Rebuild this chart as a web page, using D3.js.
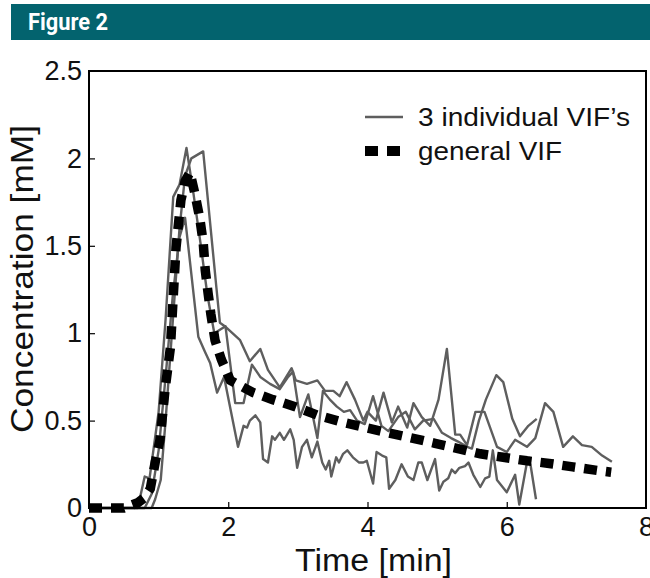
<!DOCTYPE html>
<html>
<head>
<meta charset="utf-8">
<script src="https://cdn.jsdelivr.net/npm/d3@7"></script>
<style>
  html, body { margin: 0; padding: 0; background: #fff; }
  svg { display: block; }
</style>
</head>
<body>
<svg id="chart" width="650" height="578"></svg>
<script>
// ---------------- DATA ----------------
const figureTitle = "Figure 2";
const xTitle = "Time [min]";
const yTitle = "Concentration [mM]";
const legendLabels = ["3 individual VIF\u2019s", "general VIF"];
const timeTicks = [0, 2, 4, 6, 8];
const concTicks = [0, 0.5, 1, 1.5, 2, 2.5];
const concTickLabels = ["0", "0.5", "1", "1.5", "2", "2.5"];

// individual VIF with lowest tail  [time (min), concentration (mM)]
const vifLow = [[0,0],[0.8,0],[0.9,0.08],[1.0,0.33],[1.1,0.75],[1.2,1.2],[1.3,1.55],[1.38,1.66],
  [1.57,0.98],[1.67,0.89],[1.74,0.83],[1.84,0.66],[1.94,0.75],[2.14,0.35],[2.22,0.47],[2.27,0.46],
  [2.31,0.5],[2.39,0.53],[2.46,0.49],[2.5,0.28],[2.57,0.26],[2.63,0.41],[2.67,0.39],[2.74,0.43],
  [2.8,0.39],[2.89,0.45],[2.94,0.39],[2.99,0.23],[3.06,0.35],[3.13,0.39],[3.2,0.29],[3.28,0.38],
  [3.35,0.26],[3.4,0.22],[3.45,0.27],[3.48,0.18],[3.55,0.29],[3.59,0.26],[3.65,0.31],[3.71,0.33],
  [3.79,0.29],[3.88,0.26],[3.94,0.26],[3.99,0.27],[4.08,0.14],[4.13,0.32],[4.21,0.3],[4.27,0.29],
  [4.31,0.11],[4.4,0.16],[4.49,0.25],[4.58,0.18],[4.66,0.16],[4.73,0.26],[4.78,0.26],[4.86,0.16],
  [4.97,0.28],[5.03,0.1],[5.09,0.15],[5.16,0.17],[5.21,0.22],[5.26,0.2],[5.32,0.23],[5.4,0.24],
  [5.45,0.26],[5.52,0.19],[5.62,0.12],[5.69,0.17],[5.75,0.18],[5.8,0.33],[5.86,0.16],[6.0,0.09],
  [6.12,0.19],[6.18,0.02],[6.29,0.26],[6.34,0.25],[6.42,0.05]];

// individual VIF with highest early peak, ends at 6.43 min
const vifMid = [[0,0],[0.7,0],[0.8,0.18],[0.87,0.17],[1.0,0.55],[1.1,1.08],[1.21,1.78],[1.3,1.85],
  [1.4,2.06],[1.5,1.8],[1.6,1.52],[1.7,1.22],[1.8,1.0],[1.96,1.04],[2.1,0.6],[2.22,0.6],[2.34,0.82],
  [2.46,0.75],[2.6,0.71],[2.74,0.68],[2.86,0.75],[2.93,0.78],[3.03,0.52],[3.15,0.65],[3.28,0.4],
  [3.36,0.67],[3.46,0.62],[3.56,0.58],[3.66,0.55],[3.75,0.56],[3.85,0.5],[3.96,0.48],[4.08,0.64],
  [4.2,0.47],[4.3,0.44],[4.44,0.52],[4.55,0.55],[4.68,0.45],[4.8,0.5],[4.95,0.51],[5.07,0.43],
  [5.2,0.4],[5.3,0.38],[5.43,0.35],[5.5,0.34],[5.6,0.5],[5.7,0.62],[5.85,0.76],[5.95,0.72],
  [6.08,0.51],[6.19,0.41],[6.31,0.47],[6.43,0.51]];

// individual VIF with late broad peak, ends at 7.5 min
const vifHigh = [[0,0],[0.9,0],[0.95,0.05],[1.03,0.16],[1.1,0.5],[1.2,1.05],[1.3,1.6],[1.38,1.9],
  [1.47,2.0],[1.64,2.04],[1.83,1.26],[1.88,1.06],[1.95,1.04],[2.17,0.96],[2.31,0.84],[2.46,0.91],
  [2.57,0.79],[2.74,0.69],[2.91,0.8],[2.97,0.73],[3.13,0.71],[3.28,0.73],[3.39,0.67],[3.51,0.67],
  [3.6,0.64],[3.7,0.72],[3.82,0.62],[3.94,0.5],[4.0,0.55],[4.12,0.5],[4.23,0.66],[4.35,0.49],
  [4.44,0.58],[4.57,0.46],[4.66,0.6],[4.78,0.52],[4.9,0.47],[5.02,0.62],[5.14,0.91],[5.26,0.42],
  [5.33,0.42],[5.43,0.36],[5.55,0.55],[5.68,0.55],[5.86,0.35],[6.0,0.32],[6.12,0.39],[6.29,0.35],
  [6.41,0.4],[6.55,0.6],[6.67,0.55],[6.81,0.35],[6.95,0.41],[7.08,0.36],[7.22,0.35],[7.37,0.3],
  [7.51,0.265]];

// general (population) VIF
const vifGeneral = [[0,0],[0.5,0],[0.7,0.03],[0.8,0.06],[0.88,0.11],[0.95,0.26],[1.02,0.39],
  [1.09,0.67],[1.17,0.92],[1.21,1.21],[1.25,1.49],[1.32,1.76],[1.38,1.87],[1.45,1.92],[1.52,1.8],
  [1.59,1.66],[1.64,1.52],[1.67,1.36],[1.71,1.23],[1.75,1.11],[1.81,0.96],[1.9,0.85],[2.03,0.73],
  [2.36,0.66],[2.64,0.62],[2.96,0.58],[3.29,0.53],[3.65,0.49],[3.97,0.46],[4.3,0.43],[4.64,0.40],
  [4.97,0.37],[5.3,0.34],[5.62,0.31],[5.95,0.29],[6.29,0.27],[6.61,0.255],[6.95,0.235],[7.3,0.215],
  [7.5,0.205]];

const individualSeries = [vifLow, vifMid, vifHigh];

// ---------------- DRAW ----------------
const svg = d3.select("#chart");
const W = 650, H = 578;
const plot = { left: 89, right: 646, top: 71, bottom: 508 };

const x = d3.scaleLinear().domain([0, 8]).range([plot.left, plot.right]);
const y = d3.scaleLinear().domain([0, 2.5]).range([plot.bottom, plot.top]);

// header bar
svg.append("rect").attr("x", 11).attr("y", 4).attr("width", W - 11).attr("height", 36)
  .attr("fill", "#03636e");
svg.append("text").attr("x", 28).attr("y", 30)
  .attr("font-family", "'Liberation Sans Narrow', 'Roboto', 'Liberation Sans', sans-serif")
  .attr("font-weight", "bold").attr("font-size", 23).attr("fill", "#fff")
  .attr("textLength", 80).attr("lengthAdjust", "spacingAndGlyphs")
  .text(figureTitle);

const font = "'Liberation Sans', Arial, Helvetica, sans-serif";

// axes
const yAxis = d3.axisLeft(y).tickValues(concTicks)
  .tickFormat((d, i) => concTickLabels[i]).tickSize(-6).tickPadding(7);
const xAxis = d3.axisBottom(x).tickValues(timeTicks)
  .tickFormat(d3.format("d")).tickSize(-6).tickPadding(9);

const gy = svg.append("g").attr("transform", `translate(${plot.left},0)`).call(yAxis);
const gx = svg.append("g").attr("transform", `translate(0,${plot.bottom})`).call(xAxis);
[gx, gy].forEach(g => {
  g.select(".domain").remove();
  g.selectAll(".tick line").attr("stroke", "#000").attr("stroke-width", 1.2);
  g.selectAll(".tick text").attr("font-family", font).attr("font-size", 27).attr("fill", "#111");
});
// hide ticks at frame ends
gy.selectAll(".tick line").filter(d => d === 0 || d === 2.5).remove();
gx.selectAll(".tick line").filter(d => d === 0 || d === 8).remove();

// individual VIF lines
const line = d3.line().x(d => x(d[0])).y(d => y(d[1]));
svg.append("g").selectAll("path").data(individualSeries).join("path")
  .attr("d", line).attr("fill", "none").attr("stroke", "#5e5e5e")
  .attr("stroke-width", 2.4).attr("stroke-linejoin", "round");

// general VIF
svg.append("path").datum(vifGeneral).attr("d", line)
  .attr("fill", "none").attr("stroke", "#000").attr("stroke-width", 9.5)
  .attr("stroke-dasharray", "13,9");

// frame
svg.append("rect").attr("x", plot.left).attr("y", plot.top)
  .attr("width", plot.right - plot.left).attr("height", plot.bottom - plot.top)
  .attr("fill", "none").attr("stroke", "#000").attr("stroke-width", 2);

// axis titles
svg.append("text").attr("x", (plot.left + plot.right) / 2 + 6).attr("y", 571)
  .attr("text-anchor", "middle").attr("font-family", font).attr("font-size", 31)
  .attr("fill", "#111").attr("textLength", 157).attr("lengthAdjust", "spacingAndGlyphs")
  .text(xTitle);
svg.append("text").attr("transform", `translate(33,279) rotate(-90)`)
  .attr("text-anchor", "middle").attr("font-family", font).attr("font-size", 31)
  .attr("fill", "#111").attr("textLength", 308).attr("lengthAdjust", "spacingAndGlyphs")
  .text(yTitle);

// legend
const lg = svg.append("g");
lg.append("line").attr("x1", 365).attr("x2", 403).attr("y1", 117).attr("y2", 117)
  .attr("stroke", "#5e5e5e").attr("stroke-width", 2.4);
lg.append("line").attr("x1", 365).attr("x2", 400).attr("y1", 151).attr("y2", 151)
  .attr("stroke", "#000").attr("stroke-width", 10).attr("stroke-dasharray", "13,9");
lg.append("text").attr("x", 418).attr("y", 126).attr("font-family", font).attr("font-size", 26)
  .attr("fill", "#111").attr("textLength", 212).attr("lengthAdjust", "spacingAndGlyphs")
  .text(legendLabels[0]);
lg.append("text").attr("x", 418).attr("y", 160).attr("font-family", font).attr("font-size", 26)
  .attr("fill", "#111").attr("textLength", 144).attr("lengthAdjust", "spacingAndGlyphs")
  .text(legendLabels[1]);
</script>
</body>
</html>
